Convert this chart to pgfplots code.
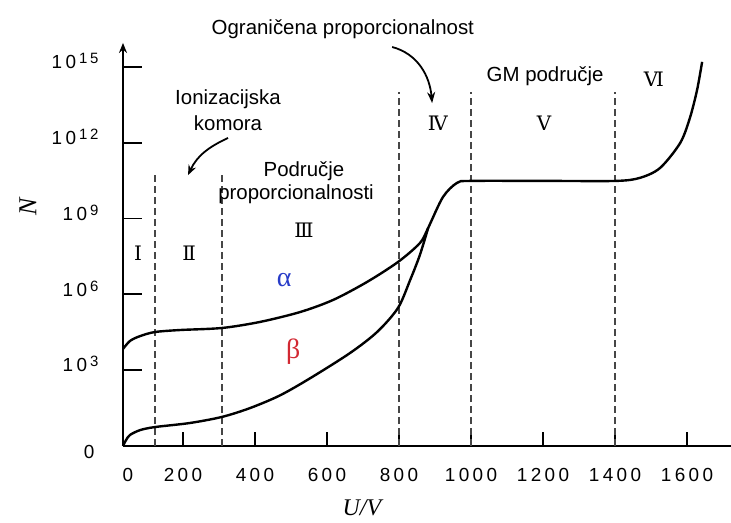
\documentclass[border=0pt]{standalone}
\usepackage{fontspec}
\setmainfont{Liberation Sans}
\newfontfamily\tickfamily[LetterSpace=18]{Liberation Sans}
\newfontfamily\seriffont{Liberation Serif}
\newfontfamily\romanfont{DejaVu Serif}
\usepackage{pgfplots}
\pgfplotsset{compat=1.18}
\usetikzlibrary{arrows.meta}
\definecolor{alphablue}{RGB}{40,60,200}
\definecolor{betared}{RGB}{210,40,50}
\definecolor{dashgray}{RGB}{70,70,70}
\newcommand{\tickfont}{\fontsize{19}{21}\selectfont\tickfamily}
\newcommand{\tp}[1]{10\hspace{3bp}\raisebox{5bp}{\fontsize{15}{16}\selectfont #1}}
\newcommand{\annfont}{\fontsize{20.5}{24}\selectfont}
\newcommand{\romfont}{\fontsize{20}{22}\selectfont\romanfont}

\begin{document}
\begin{tikzpicture}
\begin{axis}[
  x=0.36bp, y=25.27bp,
  xmin=33.3, xmax=1722, ymin=0, ymax=15.95,
  axis lines=left,
  x axis line style={-, line width=2.6bp},
  y axis line style={-{Stealth[length=10bp,width=8bp]}, line width=2.6bp},
  clip=false,
  tick align=inside,
  major tick length=14bp,
  every tick/.style={black, line width=1.8bp},
  xtick={200,400,...,1600},
  xticklabels={200,400,600,800,1000,1200,1400,1600},
  ytick=\empty,
  extra x ticks={47},
  extra x tick labels={0},
  extra x tick style={major tick length=0pt},
  extra y ticks={3,6,9,12,15},
  extra y tick labels={\tp{3},\tp{6},\tp{9},\tp{12},\tp{15}},
  extra y tick style={major tick length=19bp},
  xticklabel style={font=\tickfont, yshift=-19bp},
  yticklabel style={font=\tickfont, xshift=-21bp, yshift=6bp},
]
% region boundaries
\addplot[dashgray, line width=1.5bp, dash pattern=on 7bp off 4bp] coordinates {(122,0) (122,10.84)};
\addplot[dashgray, line width=1.5bp, dash pattern=on 7bp off 4bp] coordinates {(308,0) (308,10.84)};
\addplot[dashgray, line width=1.5bp, dash pattern=on 7bp off 4bp] coordinates {(800,0) (800,14.0)};
\addplot[dashgray, line width=1.5bp, dash pattern=on 7bp off 4bp] coordinates {(1000,0) (1000,14.0)};
\addplot[dashgray, line width=1.5bp, dash pattern=on 7bp off 4bp] coordinates {(1400,0) (1400,14.0)};
% alpha curve
\addplot[black, line width=2.4bp, smooth, tension=0.5] coordinates {
(33.3,3.84) (53,4.16) (81,4.35) (122,4.51) (192,4.59) (308,4.67) (414,4.91)
(525,5.30) (617,5.78) (711,6.49) (797,7.28) (858,8.03) (881,8.63) (922,9.85)
(961,10.41) (1000,10.49) (1219,10.49) (1403,10.49) (1469,10.61) (1525,11.0)
(1581,11.99) (1608,12.98) (1628,14.09) (1642,15.2)};
% beta curve
\addplot[black, line width=2.4bp, smooth, tension=0.5] coordinates {
(33.3,0) (42,0.24) (53,0.44) (81,0.63) (122,0.75) (219,0.91) (308,1.15)
(386,1.50) (469,2.00) (553,2.68) (664,3.68) (739,4.51) (797,5.46) (831,6.57)
(858,7.56) (881,8.63)};
% annotations
\node[font=\annfont, anchor=base] at (axis cs:644,16.30) {Ograničena proporcionalnost};
\node[font=\annfont, anchor=base] at (axis cs:1206,14.44) {GM područje};
\node[font=\annfont, anchor=base] at (axis cs:325,13.5) {Ionizacijska};
\node[font=\annfont, anchor=base] at (axis cs:325,12.5) {komora};
\node[font=\annfont, anchor=base] at (axis cs:536,10.65) {Područje};
\node[font=\annfont, anchor=base] at (axis cs:514,9.77) {proporcionalnosti};
\draw[-{Stealth[length=10bp,width=8bp]}, line width=1.8bp] (axis cs:325,12.19) to[out=205,in=65] (axis cs:214,10.72);
\draw[-{Stealth[length=11bp,width=8bp]}, line width=1.8bp] (axis cs:781,15.79) to[out=-15,in=95] (axis cs:892,13.57);
\node[font=\romfont] at (axis cs:75,7.64) {Ⅰ};
\node[font=\romfont] at (axis cs:217,7.64) {Ⅱ};
\node[font=\romfont] at (axis cs:536,8.55) {Ⅲ};
\node[font=\romfont] at (axis cs:908,12.78) {Ⅳ};
\node[font=\romfont] at (axis cs:1203,12.78) {Ⅴ};
\node[font=\romfont] at (axis cs:1508,14.52) {Ⅵ};
\node[font=\fontsize{28}{30}\selectfont\seriffont, text=alphablue] at (axis cs:481,6.57) {α};
\node[font=\fontsize{28}{30}\selectfont\seriffont, text=betared] at (axis cs:506,3.72) {β};
\node[font=\fontsize{26}{28}\selectfont\seriffont\itshape, rotate=90] at (axis cs:-231,9.46) {N};
\node[font=\fontsize{24}{26}\selectfont\seriffont\itshape] at (axis cs:697,-2.45) {U/V};
\node[font=\tickfont] at (axis cs:-61,-0.24) {0};
\end{axis}
\pgfresetboundingbox
\path (-123bp,-77bp) rectangle (608bp,446bp);
\end{tikzpicture}
\end{document}
